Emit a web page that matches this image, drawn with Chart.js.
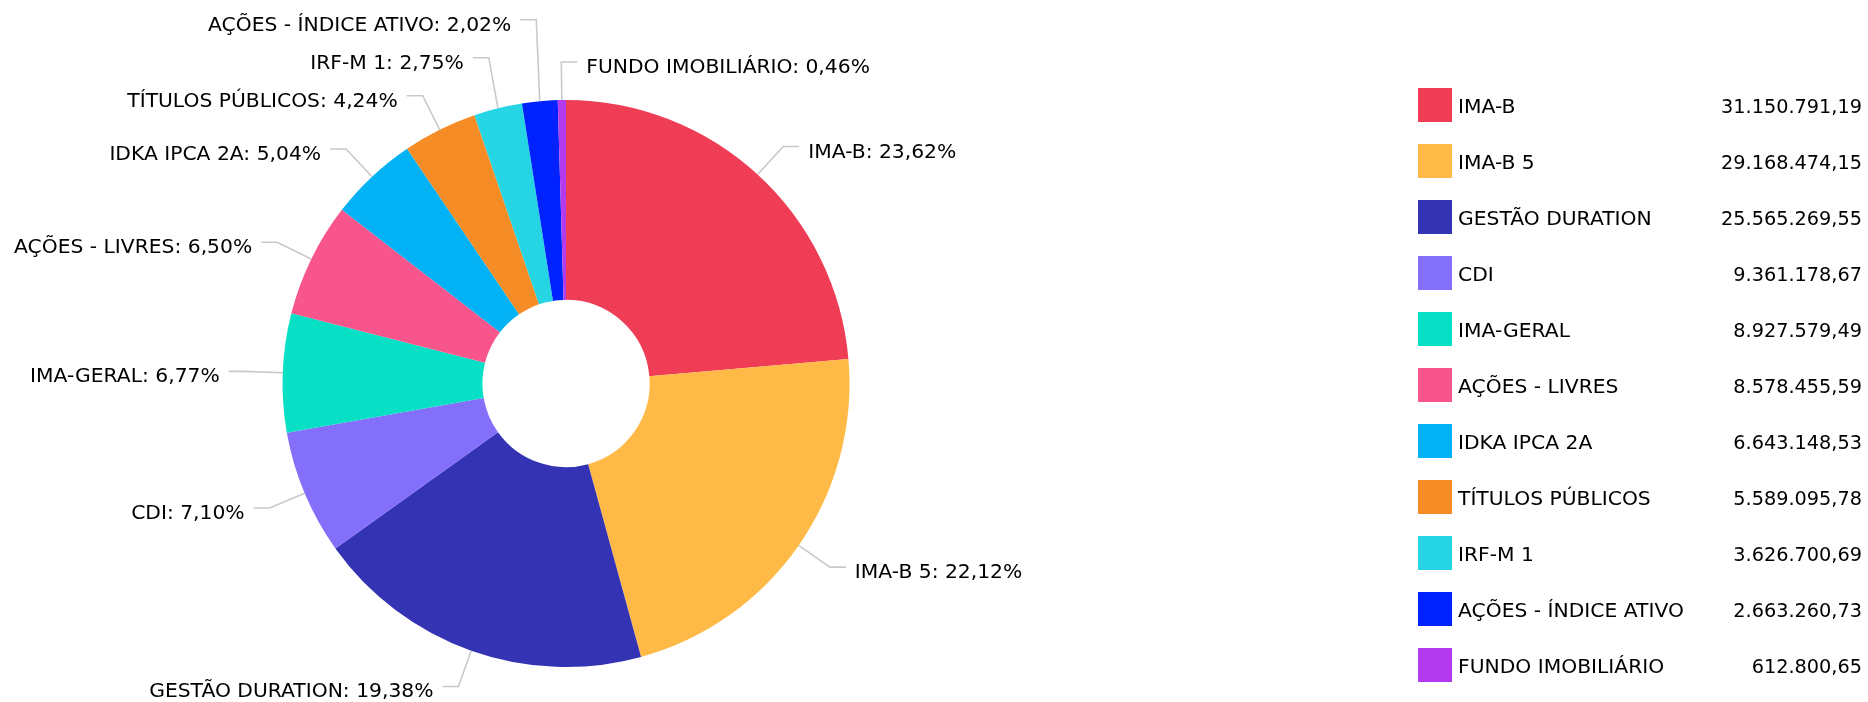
<!DOCTYPE html>
<html><head><meta charset="utf-8">
<script src="https://cdn.jsdelivr.net/npm/chart.js@4/dist/chart.umd.min.js"></script>
<style>html,body{margin:0;padding:0;background:#fff;overflow:hidden}canvas{display:block}</style>
</head><body>
<canvas id="c" width="1868" height="702"></canvas>
<script>
const categories = ['IMA-B','IMA-B 5','GESTÃO DURATION','CDI','IMA-GERAL','AÇÕES - LIVRES','IDKA IPCA 2A','TÍTULOS PÚBLICOS','IRF-M 1','AÇÕES - ÍNDICE ATIVO','FUNDO IMOBILIÁRIO'];
const values = [31150791.19, 29168474.15, 25565269.55, 9361178.67, 8927579.49, 8578455.59, 6643148.53, 5589095.78, 3626700.69, 2663260.73, 612800.65];
const colors = ['#EE3D55','#FFB946','#3333B3','#836FFA','#07E0C5','#F8558C','#02B2F4','#F68C25','#25D5E3','#0022FF','#B43AF0'];

function fmtNum(v){ const s=v.toFixed(2); let [i,d]=s.split('.'); i=i.replace(/\B(?=(\d{3})+(?!\d))/g,'.'); return i+','+d; }
function fmtPct(p){ return p.toFixed(2).replace('.',',') + '%'; }
const FONT = '20.3px "DejaVu Sans"';
const TEXT_COLOR = '#000';

const outLabels = {
  id:'outLabels',
  afterDatasetsDraw(chart){
    const ctx = chart.ctx;
    const meta = chart.getDatasetMeta(0);
    const data = chart.data.datasets[0].data;
    const total = data.reduce((a,b)=>a+b,0);
    const items = [];
    meta.data.forEach((arc,i)=>{
      const p = arc.getProps(['x','y','startAngle','endAngle','outerRadius'], true);
      const mid = (p.startAngle+p.endAngle)/2;
      const px = p.x+Math.cos(mid)*p.outerRadius, py = p.y+Math.sin(mid)*p.outerRadius;
      const er = p.outerRadius+38;
      const ex = p.x+Math.cos(mid)*er, ey = p.y+Math.sin(mid)*er;
      items.push({i,px,py,ex,ey,cy:p.y,right: ex >= p.x-10, text: chart.data.labels[i]+': '+fmtPct(data[i]/total*100)});
    });
    const gap = 38;
    [true,false].forEach(side=>{
      const s = items.filter(o=>o.right===side).sort((a,b)=>a.ey-b.ey);
      const upper = s.filter(o=>o.ey < o.cy);
      const lower = s.filter(o=>o.ey >= o.cy);
      for(let k=upper.length-2;k>=0;k--){ if(upper[k].ey > upper[k+1].ey-gap) upper[k].ey = upper[k+1].ey-gap; }
      for(let k=1;k<lower.length;k++){ if(lower[k].ey < lower[k-1].ey+gap) lower[k].ey = lower[k-1].ey+gap; }
    });
    ctx.save();
    ctx.strokeStyle = '#c9c9c9';
    ctx.lineWidth = 1.6;
    ctx.font = FONT;
    ctx.fillStyle = TEXT_COLOR;
    ctx.textBaseline = 'alphabetic';
    items.forEach(o=>{
      const dir = o.right?1:-1;
      const hx = o.ex + dir*16;
      ctx.beginPath();
      ctx.moveTo(o.px,o.py);
      ctx.lineTo(o.ex,o.ey);
      ctx.lineTo(hx,o.ey);
      ctx.stroke();
      ctx.textAlign = o.right?'left':'right';
      ctx.fillText(o.text, hx + dir*9, o.ey + 11);
    });
    ctx.restore();
  }
};

const sideLegend = {
  id:'sideLegend',
  afterDraw(chart){
    const ctx = chart.ctx;
    const ds = chart.data.datasets[0];
    ctx.save();
    ctx.font = FONT;
    ctx.textBaseline = 'alphabetic';
    chart.data.labels.forEach((lab,i)=>{
      const cy = 105 + 56*i;
      ctx.fillStyle = ds.backgroundColor[i];
      ctx.fillRect(1418, cy-17, 34, 34);
      ctx.fillStyle = TEXT_COLOR;
      ctx.textAlign = 'left';
      ctx.fillText(lab, 1458, cy+8);
      ctx.textAlign = 'right';
      const vt = fmtNum(ds.data[i]);
      const w = ctx.measureText(vt).width;
      ctx.fillText(vt, 1862, cy+8, w*0.95);
    });
    ctx.restore();
  }
};

new Chart(document.getElementById('c'), {
  type:'doughnut',
  data:{ labels: categories, datasets:[{ data: values, backgroundColor: colors, borderWidth:0, hoverOffset:0 }]},
  options:{
    responsive:false,
    animation:false,
    events:[],
    cutout:'29.5%',
    layout:{ padding:{ left:282.5, top:100, right:1018.5, bottom:35 } },
    plugins:{ legend:{display:false}, tooltip:{enabled:false} }
  },
  plugins:[outLabels, sideLegend]
});
</script>
</body></html>
